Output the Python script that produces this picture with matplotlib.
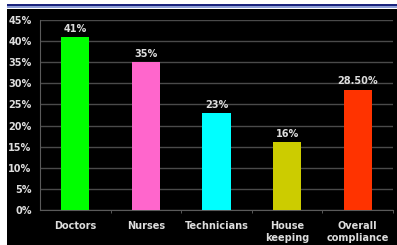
import matplotlib
matplotlib.use("Agg")
import matplotlib.pyplot as plt
from matplotlib.patches import Rectangle

categories = ["Doctors", "Nurses", "Technicians", "House\nkeeping", "Overall\ncompliance"]
values = [41, 35, 23, 16, 28.5]
labels = ["41%", "35%", "23%", "16%", "28.50%"]
colors = ["#00ff00", "#ff66cc", "#00ffff", "#cccc00", "#ff3300"]
yticks = [0, 5, 10, 15, 20, 25, 30, 35, 40, 45]

W, H = 397, 245
fig = plt.figure(figsize=(W / 100, H / 100), dpi=100)
fig.patch.set_facecolor("white")
# black panel
fig.add_artist(Rectangle((7 / W, 0), 1, 1 - 9 / H, transform=fig.transFigure,
                         facecolor="black", edgecolor="none", zorder=0))
# blue header line
fig.add_artist(Rectangle((7 / W, 1 - 6 / H), 1, 2 / H, transform=fig.transFigure,
                         facecolor="#1a237e", edgecolor="none", zorder=0))
fig.add_artist(Rectangle((7 / W, 1 - 8 / H), 1, 2 / H, transform=fig.transFigure,
                         facecolor="#8fa0d8", edgecolor="none", zorder=0))

ax = fig.add_axes([40 / W, 1 - 210 / H, 353 / W, 190 / H])
ax.set_facecolor("black")
x = range(len(categories))
ax.bar(x, values, width=0.4, color=colors, zorder=3)
ax.set_xlim(-0.5, len(categories) - 0.5)
ax.set_ylim(0, 45)
ax.set_yticks(yticks)
ax.set_yticklabels([f"{t}%" for t in yticks], color="#dddddd", fontsize=7, fontweight="bold")
ax.set_xticks(list(x))
ax.set_xticklabels(categories, color="#dddddd", fontsize=7, fontweight="bold", linespacing=1.2)
ax.tick_params(axis="x", length=0, pad=8)
ax.tick_params(axis="y", length=0, pad=6)
ax.set_xticks([i + 0.5 for i in range(len(categories))], minor=True)
ax.tick_params(axis="x", which="minor", length=2, color="#666666")
ax.yaxis.grid(True, color="#4a4a4a", linewidth=1, zorder=0)
for s in ["top", "right"]:
    ax.spines[s].set_visible(False)
for s in ["left", "bottom"]:
    ax.spines[s].set_color("#5a5a5a")
for i, (v, l) in enumerate(zip(values, labels)):
    ax.text(i, v + 0.8, l, ha="center", va="bottom", color="#dddddd",
            fontsize=7, fontweight="bold")

fig.savefig("out.png", dpi=100)
